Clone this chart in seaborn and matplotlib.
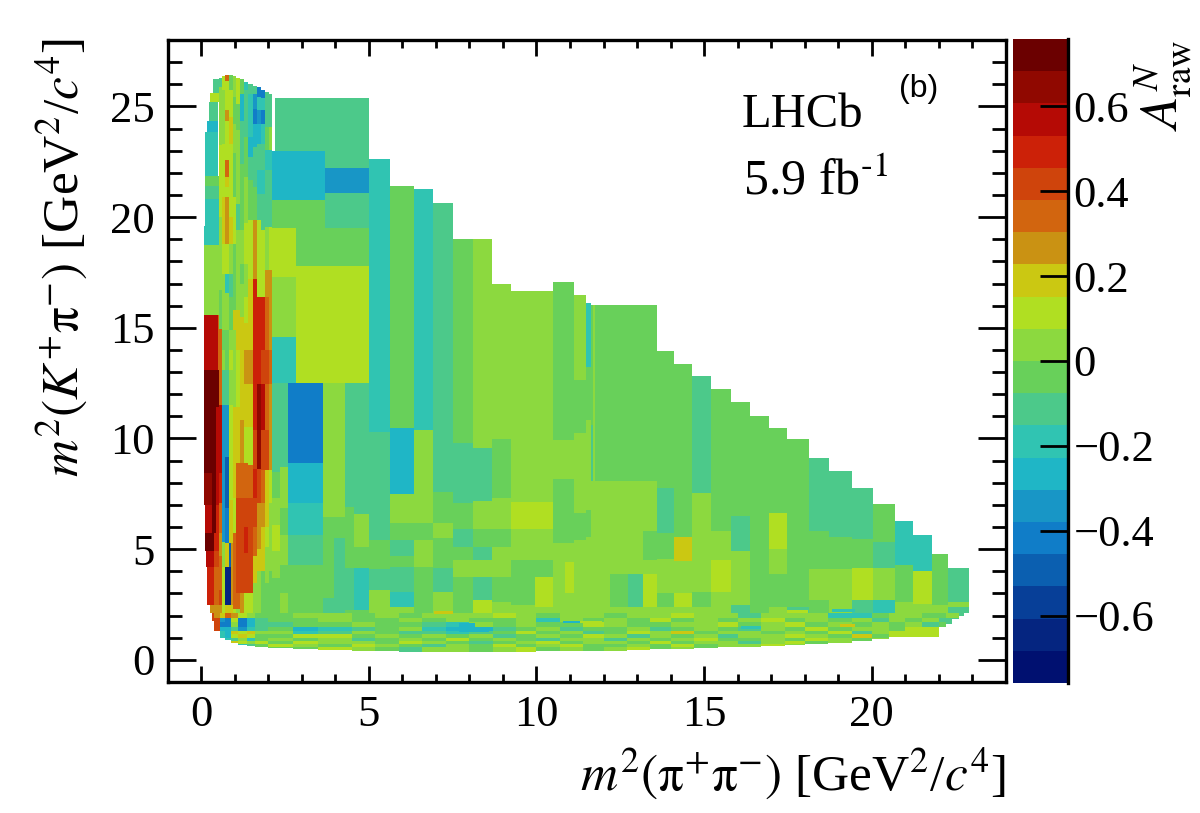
import numpy as np
import matplotlib
matplotlib.use('Agg')
import matplotlib.pyplot as plt
from matplotlib.colors import ListedColormap
from matplotlib.ticker import MultipleLocator
import seaborn as sns

# bins are (x0, x1, y edges from the top down, value per cell)
left_edge_bins = [
    (0.36, 0.54, [26.25, 25.6], [-0.11]),
    (0.26, 0.54, [25.6, 25.2], [0.11]),
    (0.23, 0.51, [25.2, 24.37], [-0.11]),
    (0.18, 0.51, [24.37, 23.85], [-0.27]),
    (0.13, 0.51, [23.85, 21.85], [-0.19]),
    (0.11, 0.54, [21.85, 21.4, 20.85, 19.6], [-0.04, -0.11, -0.19]),
    (0.08, 0.54, [19.6, 18.75, 15.6], [-0.19, 0.04]),
    (0.08, 0.51, [15.6, 13.09], [0.57]),
    (0.51, 0.54, [15.6, 13.09], [0.34]),
    (0.08, 0.46, [13.09, 8.43], [0.72]),
    (0.46, 0.54, [13.09, 11.43, 8.43, 7.0, 5.72], [0.72, 0.57, 0.57, 0.49]),
    (0.08, 0.31, [8.43, 7.0], [0.64]),
    (0.31, 0.46, [8.43, 7.0, 5.72], [0.72, 0.72]),
    (0.11, 0.31, [7.0, 5.72], [0.57]),
    (0.13, 0.38, [5.72, 4.9], [0.72]),
    (0.38, 0.46, [5.72, 4.9], [0.49]),
    (0.46, 0.54, [5.72, 4.9], [0.49]),
    (0.16, 0.41, [4.9, 4.2], [0.57]),
    (0.41, 0.54, [4.9, 4.2], [0.42]),
    (0.18, 0.38, [4.2, 2.48], [0.49]),
    (0.38, 0.54, [4.2, 2.48], [0.34]),
    (0.29, 0.54, [2.48, 2.1], [0.27]),
]

inner_bins = [
    (0.54, 0.62, [26.3, 25.87, 23.24, 20.01, 16.7, 14.97, 11.51, 8.43, 7.07, 5.72, 4.67, 3.16, 2.48, 2.1],
     [-0.11, 0.04, 0.11, 0.04, -0.04, 0.34, 0.57, 0.49, 0.34, 0.27, 0.34, 0.42, 0.27]),
    (0.62, 0.72, [26.38, 25.72, 23.32, 20.91, 18.8, 17.45, 14.9, 13.99, 13.09, 11.51, 5.34, 4.21, 2.1],
     [0.11, 0.04, 0.11, 0.19, 0.11, 0.04, -0.04, 0.04, -0.11, -0.34, 0.04, 0.11]),
    (0.72, 0.83, [26.43, 26.17, 24.82, 24.37, 22.56, 21.81, 21.36, 20.91, 18.8, 17.45, 16.55, 14.9, 13.09, 11.51, 9.18, 6.85, 5.27, 4.21, 2.48, 2.1],
     [0.34, 0.11, 0.27, 0.11, 0.34, 0.19, 0.11, 0.27, 0.11, -0.19, 0.04, -0.04, -0.11, -0.34, -0.49, -0.42, 0.19, -0.64, 0.19]),
    (0.83, 0.95, [26.43, 25.72, 24.52, 23.32, 20.01, 18.8, 17.45, 16.4, 14.9, 13.99, 13.09, 11.51, 7.22, 5.27, 4.21, 2.48, 2.1],
     [-0.04, 0.11, 0.19, 0.11, 0.19, 0.04, -0.11, -0.04, 0.04, 0.11, 0.04, 0.11, 0.19, -0.49, -0.64, 0.19]),
    (0.95, 1.05, [26.37, 25.42, 24.22, 22.87, 20.91, 18.8, 15.8, 14.9, 11.43, 7.3, 5.72, 2.33, 2.1],
     [0.04, -0.04, 0.04, -0.04, 0.11, -0.04, 0.19, 0.04, 0.19, 0.11, 0.34, 0.11]),
    (1.05, 1.17, [26.3, 25.12, 23.92, 20.61, 19.41, 15.8, 13.99, 11.43, 8.88, 7.3, 3.01, 2.33, 2.1],
     [0.11, -0.04, 0.04, -0.11, 0.04, 0.19, 0.11, 0.19, 0.34, 0.42, 0.34, 0.04]),
    (1.17, 1.29, [26.22, 25.57, 24.37, 22.41, 19.41, 17.9, 17.0, 15.5, 10.83, 8.88, 7.3, 3.01, 2.1],
     [-0.04, -0.27, -0.11, -0.04, 0.04, -0.04, 0.04, 0.19, 0.27, 0.34, 0.42, 0.27]),
    (1.29, 1.41, [26.13, 25.72, 23.62, 21.81, 19.71, 17.9, 16.4, 15.2, 13.99, 12.49, 10.53, 8.88, 7.3, 6.02, 4.82, 3.01, 2.1],
     [-0.19, -0.11, -0.04, 0.04, 0.11, 0.04, 0.11, 0.19, 0.27, 0.19, 0.11, 0.34, 0.42, 0.49, 0.42, 0.11]),
    (1.41, 1.53, [26.02, 25.57, 23.62, 22.71, 21.66, 19.86, 17.2, 13.99, 12.49, 10.53, 8.8, 7.3, 3.01, 2.1],
     [-0.11, -0.19, -0.27, -0.11, -0.04, 0.11, 0.19, 0.27, 0.19, 0.11, 0.34, 0.42, 0.11]),
    (1.53, 1.67, [25.92, 25.57, 24.9, 24.22, 23.17, 21.36, 19.86, 17.2, 10.38, 8.65, 7.3, 6.02, 4.67, 3.46, 2.1],
     [-0.11, -0.34, -0.42, -0.27, -0.11, -0.04, 0.27, 0.49, 0.42, 0.49, 0.42, 0.34, 0.19, 0.04]),
    (1.67, 1.81, [25.87, 25.42, 24.82, 24.22, 23.32, 22.11, 21.06, 19.86, 16.4, 12.49, 8.65, 7.07, 5.0, 3.99, 2.1],
     [-0.42, -0.19, -0.34, -0.27, -0.11, -0.19, -0.11, 0.11, 0.49, 0.64, 0.42, 0.27, 0.19, 0.04]),
    (1.81, 1.93, [25.75, 25.35, 24.82, 24.22, 23.32, 22.11, 21.06, 19.41, 16.4, 13.99, 12.49, 10.38, 8.58, 7.07, 6.02, 3.99, 2.1],
     [-0.42, -0.19, -0.42, -0.19, -0.11, -0.19, -0.11, 0.11, 0.49, 0.42, 0.57, 0.42, 0.34, 0.27, 0.19, -0.04]),
    (1.93, 2.03, [25.65, 24.07, 23.02, 22.11, 19.56, 17.6, 16.4, 13.99, 12.49, 10.38, 8.58, 6.02, 5.12, 3.46, 2.1],
     [-0.11, -0.04, -0.19, -0.11, 0.04, 0.27, 0.34, 0.42, 0.34, 0.42, 0.19, 0.11, 0.04, -0.04]),
    (2.03, 2.12, [25.54, 24.07, 23.02, 22.11, 19.56, 17.6, 14.0, 12.49, 8.58, 7.07, 4.0, 2.1],
     [-0.11, 0.04, -0.19, -0.11, 0.11, 0.27, 0.34, 0.27, 0.11, 0.04, -0.04]),
    (0.89, 0.95, [5.27, 2.48], [0.27]),
]

main_bins = [
    (2.12, 2.2, [23.0, 20.75, 19.5], [-0.27, -0.04]),
    (2.2, 5.0, [25.4, 23.0], [-0.11]),
    (2.2, 3.7, [23.0, 20.75, 19.5], [-0.27, -0.04]),
    (3.7, 5.0, [23.0, 22.25, 21.07, 19.5], [-0.11, -0.34, -0.11]),
    (2.12, 2.85, [19.5, 17.3, 14.6, 12.5], [0.11, 0.04, -0.19]),
    (2.85, 5.0, [19.5, 17.8, 12.5], [-0.04, 0.11]),
    (2.12, 2.34, [12.5, 8.5, 7.3, 6.1, 4.9, 3.7, 2.1], [-0.11, -0.04, 0.04, 0.11, 0.04, -0.04]),
    (2.34, 2.58, [12.5, 8.7, 6.85, 5.64, 4.3, 3.0, 2.1], [-0.11, 0.04, -0.04, 0.04, -0.04, 0.04]),
    (2.58, 3.65, [12.5, 8.9, 7.08, 5.64, 4.29, 2.1], [-0.42, -0.27, -0.19, -0.11, -0.04]),
    (3.65, 3.95, [12.5, 6.45, 2.8, 2.1], [0.04, -0.04, -0.11]),
    (3.95, 4.28, [12.5, 6.45, 5.5, 2.1], [0.04, -0.04, -0.11]),
    (4.28, 4.57, [12.5, 6.9, 4.15, 2.26, 2.1], [-0.11, -0.04, -0.11, -0.04]),
    (4.57, 5.0, [12.5, 6.6, 5.1, 4.15, 2.26, 2.1], [-0.11, 0.04, -0.04, -0.19, -0.04]),
    (5.0, 5.62, [22.65, 10.3, 5.4, 4.1, 3.16, 2.1], [-0.19, -0.11, -0.04, -0.11, 0.04]),
    (5.62, 6.35, [21.4, 10.47, 7.5, 6.2, 5.4, 4.7, 4.2, 3.07, 2.4, 2.1], [-0.04, -0.27, 0.04, -0.04, -0.11, -0.04, -0.11, -0.19, 0.04]),
    (6.35, 6.92, [21.27, 10.38, 6.2, 5.4, 4.2, 2.1], [-0.19, 0.04, -0.04, 0.04, -0.04]),
    (6.92, 7.5, [20.65, 7.55, 6.2, 5.5, 4.15, 3.07, 2.1], [-0.11, -0.04, 0.04, -0.04, -0.11, 0.04]),
    (7.5, 8.12, [19.0, 9.8, 7.1, 5.9, 5.1, 4.5, 3.75, 2.1], [-0.04, -0.11, -0.04, -0.11, -0.04, 0.04, -0.04]),
    (8.12, 8.69, [19.0, 9.58, 7.17, 5.9, 5.1, 4.5, 3.75, 2.7, 2.1], [0.04, -0.11, 0.04, -0.04, -0.11, 0.04, -0.11, 0.11]),
    (8.69, 9.24, [16.95, 9.97, 7.3, 5.9, 5.1, 3.75, 2.6, 2.1], [0.04, -0.04, 0.04, -0.04, 0.04, -0.04, 0.04]),
    (9.24, 9.95, [16.65, 7.13, 5.9, 4.5, 2.5, 2.1], [0.04, 0.11, 0.04, -0.04, 0.04]),
    (9.95, 10.48, [16.65, 7.13, 5.9, 4.5, 3.75, 2.4, 2.1], [0.04, 0.11, 0.04, -0.04, 0.11, 0.04]),
    (10.48, 10.85, [17.06, 9.93, 8.17, 5.28, 2.1], [-0.04, 0.04, -0.04, 0.04]),
    (10.85, 11.13, [17.06, 9.93, 8.17, 5.28, 4.44, 3.0, 2.1], [-0.04, 0.04, -0.04, 0.04, 0.11, 0.04]),
    (11.13, 11.49, [16.47, 12.64, 10.24, 6.63, 5.4, 2.1], [0.04, -0.04, 0.04, -0.04, 0.04]),
    (11.49, 11.62, [16.15, 13.23, 10.84, 6.77, 5.56, 2.1], [-0.19, -0.04, 0.04, -0.04, 0.04]),
    (11.62, 11.68, [16.05, 10.6, 8.1, 2.1], [-0.04, -0.11, 0.04]),
    (11.68, 11.77, [16.02, 2.1], [0.04]),
    (11.77, 12.2, [16.02, 8.08, 2.1], [-0.04, 0.04]),
    (12.2, 12.73, [16.02, 8.08, 3.9, 2.4, 2.1], [-0.04, 0.04, -0.04, 0.04]),
    (12.73, 13.18, [16.02, 8.08, 3.9, 2.4, 2.1], [-0.04, 0.04, -0.11, 0.04]),
    (13.18, 13.6, [16.02, 8.08, 5.8, 4.5, 3.9, 2.4, 2.1], [-0.04, 0.04, -0.04, 0.04, 0.11, 0.04]),
    (13.6, 14.1, [13.96, 7.77, 5.72, 4.55, 3.0, 2.4, 2.1], [-0.04, -0.11, -0.04, 0.04, -0.04, 0.04]),
    (14.1, 14.64, [13.36, 5.55, 4.47, 3.0, 2.4, 2.1], [-0.04, 0.19, 0.04, 0.11, 0.04]),
    (14.64, 15.2, [12.8, 7.52, 3.08, 2.4, 2.1], [-0.11, 0.04, -0.04, 0.04]),
    (15.2, 15.8, [12.24, 5.79, 4.51, 3.08, 2.1], [-0.04, 0.04, 0.11, 0.04]),
    (15.8, 16.38, [11.66, 6.5, 4.9, 2.5, 2.1], [-0.04, -0.11, 0.04, -0.11]),
    (16.38, 16.93, [11.0, 2.1], [-0.04]),
    (16.93, 17.46, [10.46, 6.63, 5.0, 3.9, 2.4, 2.1], [-0.04, 0.11, 0.04, -0.04, 0.04]),
    (17.46, 18.14, [9.96, 2.4, 2.1], [-0.04, -0.11]),
    (18.14, 18.71, [9.1, 5.82, 4.1, 2.7, 2.1], [-0.11, -0.04, 0.04, -0.04]),
    (18.71, 19.42, [8.53, 5.56, 4.1, 2.1], [-0.11, -0.04, 0.04]),
    (19.42, 20.03, [7.76, 5.44, 4.17, 2.71, 2.1], [-0.11, -0.04, 0.11, -0.11]),
    (20.03, 20.68, [7.05, 5.32, 4.17, 2.71, 2.1], [-0.04, -0.11, 0.04, -0.19]),
    (20.68, 21.23, [6.27, 4.27, 2.6, 2.1], [-0.19, -0.04, 0.04]),
    (21.23, 21.8, [5.65, 4.0, 2.53, 2.1], [-0.19, 0.11, 0.04]),
    (21.8, 22.29, [4.78, 2.48, 2.1], [-0.04, 0.04]),
    (22.29, 22.9, [4.15, 2.6, 2.4, 2.1], [-0.11, 0.04, -0.11]),
]

# thin stripes along the bottom of the Dalitz plot
band_x = [0.31, 0.41, 0.56, 0.72, 0.9, 1.1, 1.35, 1.6, 2.0, 2.74, 3.5, 4.5, 5.2, 5.9, 6.6, 7.3, 8.0, 8.7, 9.4, 10.0,
          10.7, 11.4, 12.0, 12.7, 13.4, 14.0, 14.7, 15.4, 16.0, 16.7, 17.4, 18.0, 18.7, 19.4, 20.0, 20.5, 21.0, 21.5,
          22.0, 22.2, 22.4, 22.6, 22.75, 22.9]
band_y = [2.1, 1.9, 1.7, 1.5, 1.3, 1.15, 1.0, 0.85, 0.7, 0.55, 0.37]
band_floor = [1.75, 1.3, 1.0, 0.87, 0.75, 0.68, 0.62, 0.58, 0.54, 0.48, 0.43, 0.4, 0.38, 0.37, 0.37, 0.37, 0.37, 0.37,
              0.37, 0.38, 0.39, 0.4, 0.42, 0.44, 0.47, 0.5, 0.53, 0.56, 0.6, 0.63, 0.67, 0.72, 0.78, 0.86, 0.95, 1.04,
              1.04, 1.04, 1.5, 1.65, 1.85, 2.0, 2.1]
# hundredths of the asymmetry, one row per y band
band_vals = [
    [42, 27, 19, 34, 27, 11, 4, -4, -4, 4, 4, -4, 4, -4, 4, 4, 4, 11, 4, -4, 4, 4, -4, 4, 4, 11, 4, 4, -11, 4, 4, 4, -19, -19, -4, 4, 4, -4, -4, 4, 4, -11, -11],
    [42, 42, -34, -42, 11, -42, -27, -11, -4, -4, 4, -4, -4, 4, -4, 4, -4, -4, 4, -19, 4, -4, 4, -4, 11, -4, 4, -4, 4, 11, -4, 4, -4, 4, -11, 4, -4, 4, -11, -11, -11, -11, -11],
    [34, 42, -42, -42, 4, -42, -27, -11, -11, -4, -4, 4, -4, -4, -11, -19, 4, -4, 4, -4, -4, 11, 4, -4, -4, 4, 4, 11, -4, 4, 11, -4, 4, -4, 4, -4, 4, -11, -4, -11, -11, -19, -19],
    [42, 42, -27, -27, -11, -34, -19, -11, -4, -27, -19, -11, -4, 4, -19, -27, -27, -11, -4, 4, -11, -4, -4, 4, -11, -4, 4, -4, -11, 4, -4, 11, -4, 4, 4, -4, 11, 11, 4, -4, -4, -4, -4],
    [42, 42, -19, -27, 19, 11, 19, 4, 4, -19, -11, 4, -4, -11, -11, -19, -11, -4, 11, -4, 4, -11, -4, 11, 4, 19, -4, 4, 4, -4, 4, -4, 11, -11, 4, 11, 11, 11, 4, 4, 4, 4, 4],
    [42, 42, -19, -27, 11, 19, 11, -4, -4, 11, 11, -4, 4, -4, 4, -4, 4, -11, -4, 4, -4, 11, 4, -11, 4, -4, 4, -11, 4, 4, 11, 4, -4, 19, -4, 11, 11, 11, 11, 11, 11, 4, 4],
    [42, 42, 27, -19, -11, 4, -19, -4, 4, -4, 4, -11, -4, 4, -4, 11, -4, 4, -4, -11, 4, 4, -11, 4, -4, 4, 11, -4, -4, 4, -4, 11, 4, -4, 4, -4, 4, -4, 4, 4, 4, 4, 4],
    [42, 42, 27, -11, 19, 11, 4, 11, -4, 11, 4, 4, -4, 11, 4, -4, -11, -4, 4, 11, -4, 4, 4, -4, 11, -4, 4, 4, -11, 4, 11, -4, 4, 4, -4, 4, -4, 4, 4, 4, 4, 4, 4],
    [42, 42, 27, -11, 4, -19, -11, -4, 11, 4, -4, 11, 4, -4, -11, 4, -4, 11, -4, 4, 11, -4, -4, 4, -4, 11, -4, 4, 4, 11, 4, 4, -4, 4, 4, 4, 4, 4, 4, 4, 4, 4, 4],
    [42, 42, 27, -11, 4, -19, -11, 4, -4, -4, 11, 4, -4, -11, 4, 4, -4, 4, 11, -4, 4, -4, 4, 11, -4, 4, -4, -11, 4, 4, 4, -4, 4, 4, 4, 4, 4, 4, 4, 4, 4, 4, 4],
]

# single thin streaks that stand out inside the band
streak_bins = [
    (7.7, 8.6, [1.38, 1.28], [-0.27]),
    (7.7, 8.15, [1.68, 1.5], [-0.27]),
    (10.8, 11.3, [1.75, 1.67], [-0.27]),
    (11.3, 11.95, [1.75, 1.67], [0.11]),
    (6.95, 7.5, [2.22, 2.07], [0.19]),
    (18.8, 19.5, [2.29, 2.14], [-0.19]),
    (17.47, 18.1, [2.25, 2.13], [0.11]),
    (19.05, 19.5, [1.62, 1.5], [0.19]),
    (16.1, 16.7, [1.55, 1.4], [-0.19]),
]

level_colors = ['#001070', '#052580', '#073f98', '#0b5fb0', '#107dc8', '#1896c6', '#1fb6c6', '#30c4b2', '#4cc98a', '#68d05a',
                '#8cd93f', '#b0df22', '#cbc812', '#ca9213', '#d2650f', '#cf440c', '#cc2108', '#b50a05', '#900800', '#6b0000']
cbar_ticks = [-0.6, -0.4, -0.2, 0, 0.2, 0.4, 0.6]
cbar_labels = ['\u22120.6', '\u22120.4', '\u22120.2', '0', '0.2', '0.4', '0.6']
z_limit = 0.758

x_min, x_max = -1.0, 24.0
y_min, y_max = -1.0, 28.0
cell = 0.02  # matrix cell handed to the heatmap

sns.set_style('ticks')
plt.rcParams['font.family'] = ['Liberation Serif', 'DejaVu Serif']
plt.rcParams['mathtext.fontset'] = 'stix'
plt.rcParams.update({'text.color': 'black', 'axes.labelcolor': 'black', 'xtick.color': 'black', 'ytick.color': 'black'})


def to_col(x):
    return (np.asarray(x, dtype=float) - x_min) / cell


def to_row(y):
    return (np.asarray(y, dtype=float) - y_min) / cell


def fill_cell(grid, x0, x1, y_hi, y_lo, value):
    i0, i1 = int(round(to_col(x0))), int(round(to_col(x1)))
    j0, j1 = int(round(to_row(y_lo))), int(round(to_row(y_hi)))
    grid[j0:j1, i0:i1] = value


def fill_bins(grid, bins):
    for x0, x1, edges, vals in bins:
        for k, v in enumerate(vals):
            fill_cell(grid, x0, x1, edges[k], edges[k + 1], v)


grid = np.full((int(round((y_max - y_min) / cell)), int(round((x_max - x_min) / cell))), np.nan)

fill_bins(grid, main_bins)
fill_bins(grid, left_edge_bins)
fill_bins(grid, inner_bins)

for r, row in enumerate(band_vals):
    for c, v in enumerate(row):
        y_lo = max(band_y[r + 1], band_floor[c])
        if y_lo < band_y[r]:
            fill_cell(grid, band_x[c], band_x[c + 1], band_y[r], y_lo, v / 100)

fill_bins(grid, streak_bins)

W, H = 1200, 813
fig = plt.figure(figsize=(W / 100, H / 100), dpi=100)
ax = fig.add_axes([167.5 / W, (H - 682) / H, 838.5 / W, 642 / H])
cax = fig.add_axes([1013.3 / W, (H - 683) / H, 54.4 / W, 644 / H])

sns.heatmap(grid, ax=ax, cbar_ax=cax, cmap=ListedColormap(level_colors), vmin=-z_limit, vmax=z_limit,
            xticklabels=False, yticklabels=False, rasterized=True)
ax.set_xlim(0, grid.shape[1])
ax.set_ylim(0, grid.shape[0])

# main frame
for s in ax.spines.values():
    s.set_visible(True)
    s.set_linewidth(2.4)
    s.set_color('black')

xt = np.arange(0, 25, 5)
yt = np.arange(0, 30, 5)
ax.set_xticks(to_col(xt))
ax.set_xticklabels([str(v) for v in xt])
ax.set_yticks(to_row(yt))
ax.set_yticklabels([str(v) for v in yt])
# minor locators count from 0, which is x_min/y_min here: both are whole numbers
ax.xaxis.set_minor_locator(MultipleLocator(1 / cell))
ax.yaxis.set_minor_locator(MultipleLocator(1 / cell))
ax.tick_params(axis='x', which='major', direction='in', top=True, bottom=True, length=11.5, width=2, labelsize=32, pad=9)
ax.tick_params(axis='x', which='minor', direction='in', top=True, bottom=True, length=5.5, width=2)
ax.tick_params(axis='y', which='major', direction='in', left=True, right=True, length=20, width=2, labelsize=32, pad=9, labelrotation=0)
ax.tick_params(axis='y', which='minor', direction='in', left=True, right=True, length=10, width=2)

ax.set_xlabel(r'$m^2(\mathrm{\pi}^{+}\mathrm{\pi}^{-})$ [GeV$^2$/$c^4$]', fontsize=37, loc='right')
ax.set_ylabel(r'$m^2(K^{+}\mathrm{\pi}^{-})$ [GeV$^2$/$c^4$]', fontsize=37, loc='top')
ax.xaxis.set_label_coords(1.0, -0.1)
ax.yaxis.set_label_coords(-0.092, 1.003)

ax.text(to_col(16.12), to_row(24.05), 'LHCb', fontsize=35, va='baseline', ha='left')
ax.text(to_col(16.15), to_row(21.03), r'5.9 fb$^{\text{-}1}$', fontsize=36, va='baseline', ha='left')
ax.text(to_col(21.4), to_row(25.8), '(b)', fontsize=23, va='center', ha='center', family='Liberation Sans')

# colour scale
cb = ax.collections[0].colorbar
cb.set_ticks(cbar_ticks)
cb.set_ticklabels(cbar_labels)
cb.outline.set_linewidth(0)
cb.minorticks_off()
cax.set_axisbelow(False)
cax.tick_params(axis='y', direction='in', length=20, width=2, labelsize=32, pad=4, right=True, left=False, color='black')
cax.spines['right'].set_visible(True)
cax.spines['right'].set_linewidth(2.4)
cax.spines['right'].set_color('black')

fig.text(1163 / W, 1 - 40 / H, r'$A_{\mathrm{raw}}^{N}$', fontsize=38, rotation=90, ha='center', va='top')

fig.savefig('out.png', dpi=100)
plt.close(fig)
